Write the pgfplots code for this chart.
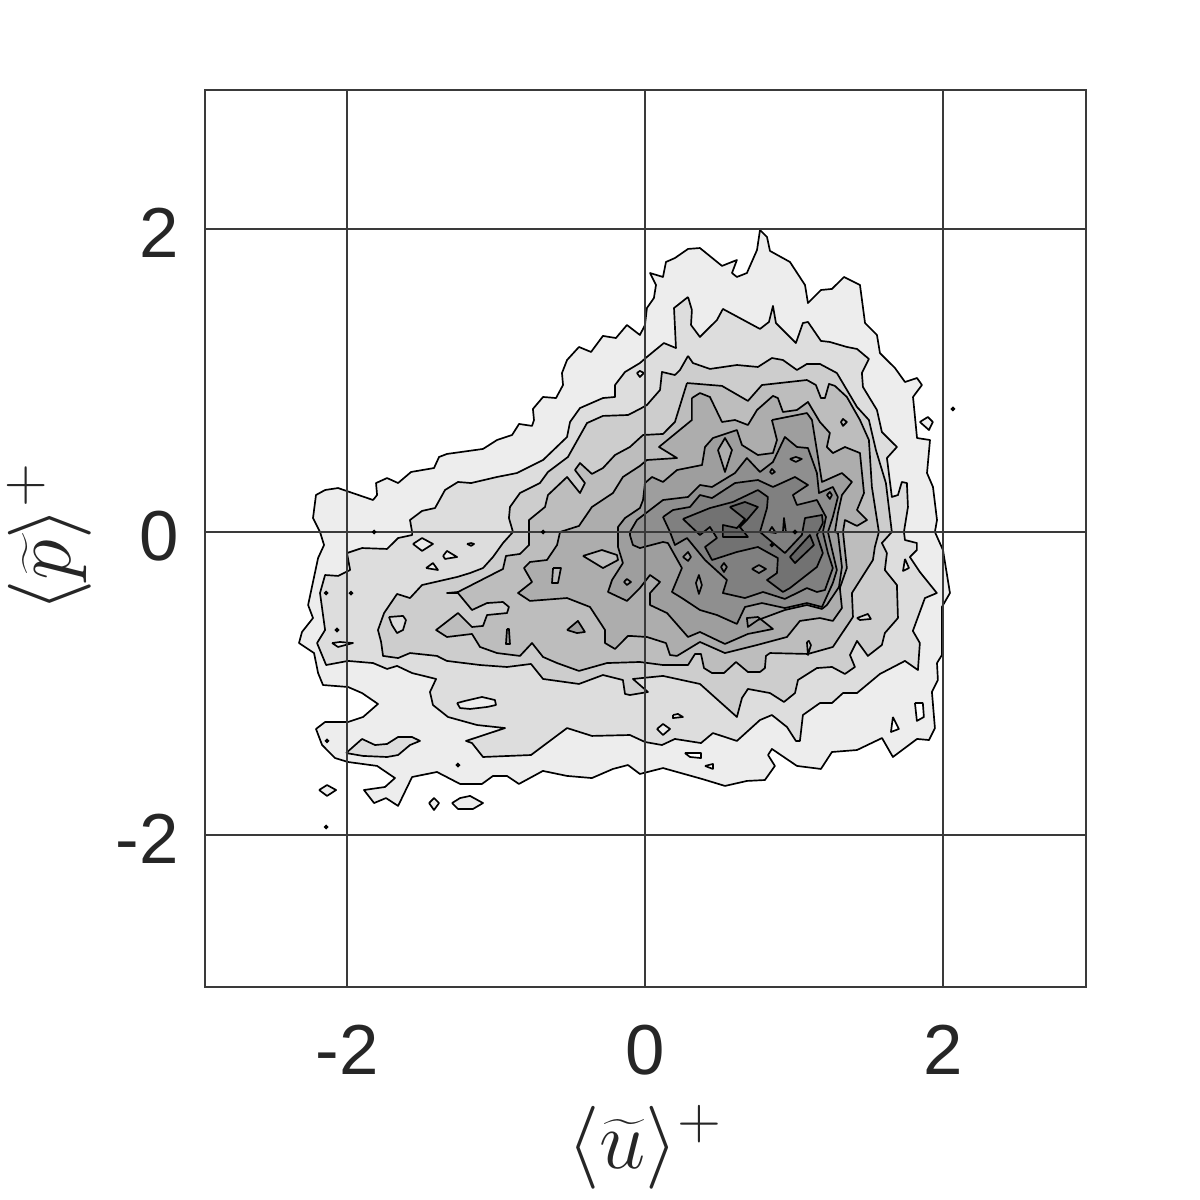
\documentclass[border=0pt]{standalone}
\usepackage{pgfplots}
\pgfplotsset{compat=1.18}
\usepackage{fontspec}
\setmainfont{Liberation Sans}
\definecolor{Lw}{gray}{1}
\definecolor{La}{RGB}{237,237,237}
\definecolor{Lb}{RGB}{221,221,221}
\definecolor{Lc}{RGB}{205,205,205}
\definecolor{Ld}{RGB}{189,189,189}
\definecolor{Le}{RGB}{173,173,173}
\definecolor{Lf}{RGB}{158,158,158}
\definecolor{Lg}{RGB}{143,143,143}
\definecolor{Lh}{RGB}{128,128,128}
\definecolor{Li}{RGB}{114,114,114}
\definecolor{Lj}{RGB}{100,100,100}
\definecolor{Ax}{RGB}{58,58,58}
\definecolor{Tx}{RGB}{38,38,38}
\newcommand{\Q}[2]{\addplot[fill=#1,draw=black,line width=.42pt,line join=round] coordinates {#2};}
\begin{document}
\begin{tikzpicture}
\path[use as bounding box] (-51.25pt,-53.25pt) rectangle (248.75pt,246.75pt);
\begin{axis}[
 scale only axis, width=220.25pt, height=224.25pt,
 xmin=-2.953, xmax=2.96, ymin=-3.003, ymax=2.917,
 axis on top, grid=major,
 grid style={color=Ax,line width=.48pt},
 axis line style={color=Ax,line width=.48pt},
 major tick length=0pt,
 xtick={-2,0,2}, xticklabels={-2,0,2},
 ytick={-2,0,2}, yticklabels={-2,0,2},
 tick label style={font=\fontsize{17.7}{20}\selectfont,text=Tx},
 xticklabel style={yshift=-6pt},
 yticklabel style={xshift=-3pt,yshift=-1pt},
 xlabel={$\langle\widetilde{u}\rangle^{+}$},
 ylabel={$\langle\widetilde{p}\rangle^{+}$},
 xlabel style={at={(axis description cs:0.5,-0.1305)},anchor=north,inner sep=0pt,font=\fontsize{21.8}{24}\selectfont,text=Tx},
 ylabel style={at={(axis description cs:-0.128,0.5017)},anchor=south,inner sep=0pt,font=\fontsize{21.8}{24}\selectfont,text=Tx},
]
% level 1
\Q{La}{(.772,1.993)(.819,1.947)(.839,1.855)(.973,1.782)(1.074,1.630)(1.094,1.511)(1.181,1.597)(1.255,1.604)(1.336,1.683)(1.443,1.630)(1.477,1.379)(1.557,1.300)(1.577,1.181)(1.678,1.082)(1.745,.990)(1.826,1.016)(1.859,.970)(1.799,.891)(1.826,.620)(1.913,.607)(1.893,.389)(1.933,.297)(1.960,.079)(1.946,0)(2.000,-.119)(2.047,-.403)(1.993,-.495)(1.993,-.812)(1.960,-.865)(1.966,-.977)(1.926,-1.056)(1.946,-1.294)(1.906,-1.373)(1.826,-1.366)(1.664,-1.485)(1.591,-1.360)(1.423,-1.439)(1.255,-1.452)(1.181,-1.564)(1.020,-1.544)(.852,-1.432)(.826,-1.472)(.872,-1.544)(.805,-1.637)(.685,-1.643)(.537,-1.676)(.383,-1.630)(.121,-1.558)(-.034,-1.597)(-.114,-1.538)(-.215,-1.564)(-.356,-1.624)(-.523,-1.610)(-.685,-1.577)(-.846,-1.663)(-.926,-1.610)(-1.020,-1.610)(-1.094,-1.663)(-1.241,-1.663)(-1.396,-1.584)(-1.563,-1.617)(-1.657,-1.808)(-1.738,-1.756)(-1.818,-1.789)(-1.886,-1.703)(-1.745,-1.683)(-1.678,-1.624)(-1.798,-1.544)(-1.993,-1.518)(-2.080,-1.492)(-2.167,-1.406)(-2.208,-1.300)(-2.147,-1.254)(-1.993,-1.254)(-1.892,-1.221)(-1.792,-1.135)(-1.899,-1.063)(-1.993,-1.023)(-2.161,-1.010)(-2.194,-.931)(-2.221,-.799)(-2.322,-.733)(-2.302,-.660)(-2.228,-.568)(-2.261,-.482)(-2.194,-.172)(-2.154,-.086)(-2.181,0)(-2.228,.092)(-2.208,.244)(-2.147,.277)(-2.060,.290)(-1.825,.211)(-1.798,.244)(-1.805,.323)(-1.731,.356)(-1.657,.323)(-1.570,.396)(-1.416,.422)(-1.382,.495)(-1.329,.515)(-1.087,.548)(-.993,.607)(-.892,.640)(-.845,.713)(-.758,.700)(-.745,.739)(-.752,.812)(-.684,.891)(-.597,.884)(-.550,.970)(-.557,1.049)(-.523,1.135)(-.443,1.221)(-.362,1.188)(-.282,1.294)(-.195,1.280)(-.121,1.366)(-.034,1.300)(0,1.366)(.013,1.478)(.060,1.544)(.074,1.630)(.034,1.709)(.121,1.683)(.141,1.782)(.201,1.808)(.289,1.868)(.369,1.874)(.517,1.756)(.617,1.795)(.584,1.709)(.617,1.683)(.684,1.709)(.752,1.861)(.772,1.993)}
% islands of level 1 outside
\Q{La}{(-2.187,-1.703)(-2.134,-1.670)(-2.073,-1.703)(-2.134,-1.742)(-2.187,-1.703)}
\Q{La}{(-1.449,-1.789)(-1.416,-1.756)(-1.382,-1.789)(-1.416,-1.835)(-1.449,-1.789)}
\Q{La}{(-1.295,-1.789)(-1.241,-1.756)(-1.174,-1.742)(-1.087,-1.789)(-1.154,-1.828)(-1.255,-1.828)(-1.295,-1.789)}
\Q{La}{(1.845,.726)(1.899,.759)(1.932,.726)(1.906,.673)(1.845,.726)}
% white holes in level 1
\Q{Lw}{(1.812,-1.129)(1.865,-1.129)(1.872,-1.221)(1.825,-1.247)(1.812,-1.129)}
\Q{Lw}{(1.664,-1.221)(1.704,-1.300)(1.651,-1.320)(1.664,-1.221)}
\Q{Lw}{(.268,-1.459)(.376,-1.459)(.376,-1.492)(.302,-1.485)(.268,-1.459)}
\Q{Lw}{(.403,-1.544)(.456,-1.531)(.456,-1.564)(.403,-1.544)}
% level 2
\Q{Lb}{(.289,1.551)(.315,1.465)(.309,1.366)(.369,1.287)(.483,1.399)(.523,1.472)(.772,1.340)(.832,1.386)(.859,1.492)(.879,1.379)(1.013,1.247)(1.060,1.379)(1.094,1.386)(1.181,1.261)(1.241,1.254)(1.355,1.221)(1.423,1.208)(1.503,1.142)(1.456,1.049)(1.463,.957)(1.557,.805)(1.590,.660)(1.691,.561)(1.624,.488)(1.657,.231)(1.698,.244)(1.724,.330)(1.758,.323)(1.765,.165)(1.738,0)(1.745,-.053)(1.825,-.073)(1.825,-.119)(1.778,-.165)(1.845,-.264)(1.959,-.403)(1.879,-.436)(1.798,-.653)(1.845,-.733)(1.832,-.911)(1.745,-.851)(1.577,-.937)(1.423,-1.063)(1.329,-1.063)(1.255,-1.129)(1.174,-1.129)(1.060,-1.208)(1.040,-1.379)(1.013,-1.379)(.953,-1.287)(.852,-1.208)(.772,-1.241)(.617,-1.379)(.456,-1.327)(.376,-1.393)(.201,-1.366)(.114,-1.406)(0,-1.386)(-.101,-1.340)(-.356,-1.346)(-.523,-1.294)(-.765,-1.472)(-1.087,-1.485)(-1.161,-1.393)(-1.201,-1.379)(-.939,-1.294)(-1.127,-1.274)(-1.322,-1.221)(-1.423,-1.142)(-1.443,-1.056)(-1.402,-.970)(-1.563,-.931)(-1.664,-.884)(-1.731,-.904)(-1.825,-.865)(-1.993,-.851)(-2.140,-.878)(-2.201,-.733)(-2.147,-.647)(-2.181,-.403)(-2.147,-.284)(-2.060,-.290)(-1.979,-.251)(-2.000,-.139)(-1.899,-.106)(-1.731,-.112)(-1.657,-.040)(-1.563,-.020)(-1.563,0)(-1.577,.079)(-1.496,.139)(-1.409,.158)(-1.342,.277)(-1.255,.330)(-1.167,.323)(-.993,.363)(-.859,.389)(-.684,.475)(-.523,.627)(-.503,.726)(-.436,.818)(-.282,.884)(-.201,.891)(-.201,.970)(-.134,1.056)(-.034,1.115)(.013,1.155)(.127,1.247)(.208,1.214)(.195,1.478)(.289,1.551)}
\Q{Lb}{(-2.006,-1.459)(-1.899,-1.366)(-1.812,-1.406)(-1.731,-1.399)(-1.657,-1.353)(-1.563,-1.353)(-1.510,-1.379)(-1.577,-1.406)(-1.657,-1.472)(-1.731,-1.485)(-1.892,-1.478)(-2.006,-1.459)}
% level 1 holes in level 2
\Q{La}{(-.054,1.049)(-.034,1.063)(-.007,1.049)(-.034,1.023)(-.054,1.049)}
\Q{La}{(-1.557,-.079)(-1.496,-.040)(-1.423,-.079)(-1.496,-.125)(-1.557,-.079)}
\Q{La}{(-1.355,-.158)(-1.329,-.125)(-1.261,-.165)(-1.342,-.178)(-1.355,-.158)}
\Q{La}{(-1.469,-.238)(-1.423,-.205)(-1.389,-.251)(-1.469,-.238)}
\Q{La}{(-1.261,-1.129)(-1.208,-1.115)(-1.094,-1.089)(-1.007,-1.109)(-1.000,-1.142)(-1.060,-1.155)(-1.174,-1.168)(-1.241,-1.162)(-1.261,-1.129)}
\Q{La}{(-1.194,-.079)(-1.167,-.073)(-1.147,-.079)(-1.167,-.092)(-1.194,-.079)}
\Q{La}{(-2.100,-.733)(-2.047,-.726)(-1.960,-.733)(-2.060,-.759)(-2.100,-.733)}
\Q{La}{(1.745,-.178)(1.772,-.238)(1.732,-.257)(1.745,-.178)}
\Q{La}{(.081,-1.300)(.121,-1.267)(.168,-1.300)(.121,-1.340)(.081,-1.300)}
\Q{La}{(.188,-1.208)(.221,-1.201)(.255,-1.221)(.188,-1.228)(.188,-1.208)}
% level 3
\Q{Lc}{(.289,1.162)(.322,1.115)(.436,1.076)(.617,1.102)(.758,1.089)(.852,1.148)(.926,1.135)(1.020,1.069)(1.087,1.109)(1.174,1.109)(1.288,1.049)(1.423,.825)(1.503,.739)(1.550,.541)(1.617,.323)(1.657,0)(1.590,-.073)(1.624,-.139)(1.610,-.251)(1.691,-.350)(1.698,-.568)(1.610,-.667)(1.590,-.746)(1.496,-.818)(1.423,-.719)(1.376,-.812)(1.409,-.891)(1.342,-.937)(1.255,-.891)(1.154,-.898)(1.027,-.977)(1.007,-1.063)(.933,-1.122)(.839,-1.063)(.691,-1.036)(.651,-1.096)(.617,-1.221)(.369,-1.003)(.121,-.950)(-.081,-.970)(.020,-1.056)(-.101,-1.076)(-.134,-1.069)(-.148,-.977)(-.282,-.944)(-.443,-1.003)(-.684,-.970)(-.765,-.871)(-.926,-.891)(-1.107,-.878)(-1.329,-.851)(-1.396,-.818)(-1.577,-.799)(-1.657,-.832)(-1.758,-.818)(-1.771,-.726)(-1.792,-.647)(-1.751,-.535)(-1.664,-.409)(-1.577,-.436)(-1.496,-.350)(-1.261,-.297)(-1.174,-.271)(-1.087,-.238)(-1.020,-.165)(-.953,-.073)(-.886,0)(-.913,.092)(-.906,.165)(-.839,.257)(-.705,.323)(-.651,.396)(-.517,.495)(-.389,.719)(-.282,.766)(-.114,.772)(-.034,.812)(.013,.838)(.101,.937)(.114,1.056)(.201,1.036)(.235,1.069)(.289,1.162)}
\Q{Lb}{(-1.718,-.561)(-1.624,-.554)(-1.604,-.581)(-1.624,-.647)(-1.664,-.667)(-1.698,-.614)(-1.718,-.561)}
\Q{Lb}{(1.423,-.568)(1.496,-.541)(1.516,-.574)(1.443,-.581)(1.423,-.568)}
% level 4
\Q{Ld}{(.282,.983)(.517,.964)(.691,.865)(.785,.970)(1.087,1.003)(1.147,.970)(1.181,.884)(1.208,.884)(1.235,.977)(1.275,.964)(1.355,.891)(1.443,.739)(1.503,.607)(1.523,.297)(1.570,0)(1.543,-.099)(1.530,-.185)(1.389,-.403)(1.396,-.561)(1.261,-.759)(1.094,-.805)(.839,-.799)(.812,-.818)(.805,-.898)(.772,-.924)(.691,-.924)(.611,-.858)(.530,-.931)(.450,-.931)(.396,-.898)(.376,-.805)(.336,-.805)(.289,-.878)(.121,-.878)(-.034,-.858)(-.255,-.865)(-.443,-.917)(-.590,-.865)(-.684,-.825)(-.758,-.733)(-.839,-.818)(-.993,-.799)(-1.107,-.759)(-1.161,-.673)(-1.329,-.693)(-1.402,-.647)(-1.255,-.535)(-1.161,-.627)(-1.087,-.620)(-1.060,-.548)(-.926,-.535)(-.913,-.495)(-.953,-.462)(-1.060,-.469)(-1.161,-.515)(-1.255,-.403)(-1.329,-.403)(-1.255,-.396)(-.953,-.244)(-.933,-.158)(-.839,-.145)(-.778,-.086)(-.778,0)(-.778,.079)(-.671,.165)(-.651,.244)(-.523,.363)(-.436,.257)(-.403,.323)(-.470,.409)(-.436,.455)(-.356,.383)(-.282,.422)(-.201,.508)(-.101,.561)(-.013,.640)(.121,.647)(.201,.726)(.282,.983)}
\Q{Lc}{(1.087,-.726)(1.100,-.719)(1.114,-.746)(1.094,-.812)(1.087,-.726)}
% level 5
\Q{Le}{(.315,.884)(.369,.917)(.436,.891)(.517,.726)(.604,.739)(.691,.706)(.752,.805)(.859,.898)(.892,.884)(.926,.792)(1.020,.805)(1.094,.858)(1.174,.726)(1.241,.653)(1.221,.561)(1.261,.521)(1.342,.561)(1.443,.521)(1.470,.257)(1.423,.145)(1.490,.079)(1.423,.040)(1.342,.079)(1.329,0)(1.355,-.238)(1.308,-.370)(1.322,-.502)(1.261,-.587)(1.174,-.568)(1.040,-.587)(.953,-.693)(.752,-.746)(.537,-.799)(.369,-.726)(.215,-.818)(.168,-.812)(.141,-.733)(.013,-.693)(-.101,-.686)(-.114,-.686)(-.201,-.772)(-.268,-.733)(-.268,-.647)(-.369,-.495)(-.523,-.436)(-.772,-.455)(-.852,-.403)(-.758,-.330)(-.812,-.238)(-.772,-.198)(-.658,-.185)(-.590,-.086)(-.570,0)(-.443,.040)(-.356,.165)(-.215,.257)(-.148,.363)(-.034,.436)(.013,.475)(.215,.488)(.094,.561)(.315,.739)(.315,.884)}
\Q{Lf}{(-.523,-.647)(-.450,-.587)(-.403,-.660)(-.456,-.667)(-.523,-.647)}
\Q{Lf}{(-.926,-.640)(-.913,-.640)(-.906,-.739)(-.933,-.739)(-.926,-.640)}
\Q{Ld}{(.993,.726)(1.020,.739)(1.040,.726)(1.020,.706)(.993,.726)}
\Q{Ld}{(1.315,.726)(1.329,.746)(1.355,.726)(1.329,.700)(1.315,.726)}
\Q{Ld}{(-.416,-.158)(-.289,-.119)(-.188,-.152)(-.181,-.185)(-.282,-.238)(-.416,-.158)}
\Q{Ld}{(-.617,-.238)(-.564,-.238)(-.584,-.337)(-.624,-.337)(-.617,-.238)}
% level 6
\Q{Lf}{(.852,.739)(1.087,.785)(1.121,.739)(1.188,.330)(1.322,.389)(1.389,.330)(1.322,.244)(1.295,.125)(1.275,0)(1.295,-.007)(1.322,-.231)(1.302,-.363)(1.221,-.482)(1.188,-.508)(1.087,-.482)(.939,-.515)(.758,-.581)(.691,-.627)(.684,-.568)(.758,-.561)(.859,-.640)(.691,-.673)(.537,-.739)(.369,-.660)(.289,-.693)(.148,-.535)(.034,-.482)(.034,-.403)(.101,-.330)(.034,-.284)(-.034,-.370)(-.101,-.436)(-.121,-.455)(-.248,-.396)(-.221,-.317)(-.148,-.205)(-.181,-.099)(-.181,0)(-.181,.033)(-.134,.092)(-.034,.158)(-.013,.211)(0,.323)(.047,.363)(.121,.330)(.215,.409)(.383,.442)(.403,.561)(.456,.620)(.617,.673)(.651,.574)(.758,.508)(.859,.521)(.886,.607)(.852,.739)}
\Q{Le}{(.490,.541)(.537,.620)(.584,.541)(.537,.396)(.490,.541)}
\Q{Le}{(-.141,-.330)(-.121,-.310)(-.094,-.330)(-.121,-.350)(-.141,-.330)}
% level 7
\Q{Lg}{(-.101,0)(-.054,.079)(.121,.211)(.289,.231)(.369,.310)(.450,.297)(.604,.389)(.684,.488)(.772,.396)(.859,.462)(.939,.627)(1.020,.561)(1.094,.554)(1.154,.389)(1.168,.257)(1.261,.297)(1.295,.231)(1.261,.099)(1.228,0)(1.261,-.139)(1.288,-.251)(1.261,-.337)(1.188,-.495)(1.087,-.469)(.939,-.502)(.785,-.469)(.671,-.495)(.617,-.607)(.483,-.548)(.369,-.515)(.248,-.436)(.181,-.396)(.248,-.238)(.154,-.073)(.121,-.066)(-.034,-.106)(-.081,-.086)(-.101,-.020)(-.101,0)}
\Q{Lf}{(.973,.482)(1.013,.495)(1.053,.482)(1.013,.462)(.973,.482)}
\Q{Lf}{(.839,.396)(.852,.416)(.872,.396)(.852,.383)(.839,.396)}
\Q{Lf}{(1.221,.244)(1.241,.264)(1.255,.244)(1.241,.218)(1.221,.244)}
\Q{Lf}{(.255,-.165)(.289,-.132)(.309,-.165)(.289,-.191)(.255,-.165)}
\Q{Lf}{(.342,-.337)(.362,-.284)(.382,-.350)(.362,-.409)(.342,-.337)}
% level 8
\Q{Lh}{(.121,.099)(.188,.145)(.302,.165)(.369,.244)(.450,.224)(.604,.323)(.758,.343)(.859,.297)(1.007,.363)(1.094,.310)(.993,.244)(1.020,.178)(1.154,.211)(1.215,.099)(1.194,0)(1.228,-.139)(1.261,-.238)(1.208,-.383)(1.154,-.396)(1.087,-.370)(.939,-.442)(.792,-.396)(.671,-.436)(.523,-.403)(.550,-.317)(.403,-.185)(.282,-.040)(.201,-.086)(.168,0)(.121,.099)}
\Q{Lg}{(.510,-.231)(.530,-.205)(.550,-.231)(.530,-.264)(.510,-.231)}
\Q{Lg}{(.718,-.244)(.765,-.218)(.812,-.244)(.765,-.271)(.718,-.244)}
\Q{Lg}{(.832,0)(.852,.033)(.879,-.007)(.832,0)}
\Q{Lg}{(.926,0)(.933,.092)(.946,0)(.926,0)}
% level 9
\Q{Li}{(.255,.086)(.436,.158)(.590,.198)(.758,.277)(.825,.231)(.819,.158)(.772,0)(.939,-.139)(1.053,-.020)(1.074,.092)(1.188,.112)(1.194,.059)(1.154,-.020)(1.194,-.139)(1.154,-.231)(.973,-.370)(.926,-.396)(.819,-.317)(.886,-.271)(.892,-.172)(.758,-.099)(.617,-.132)(.450,-.185)(.403,-.099)(.483,-.040)(.436,.033)(.369,-.020)(.255,.086)}
% level 10
\Q{Lj}{(.570,.165)(.671,.198)(.758,.165)(.684,.079)(.637,.033)(.691,-.033)(.523,-.033)(.523,.046)(.617,.026)(.671,.086)(.570,.165)}
\Q{Lj}{(.973,-.165)(1.107,-.020)(1.134,-.086)(1.007,-.205)(.973,-.165)}
% markers of very small closed contours
\addplot[only marks,mark=*,mark size=.35pt,black] coordinates {(-2.140,-.403)(-1.973,-.403)(-1.818,0)(-.684,0)(-2.134,-1.379)(-1.255,-1.538)(-2.140,-1.947)(-2.067,-.647)(.852,-.086)(1.007,0)(2.067,.812)};
\end{axis}
\end{tikzpicture}
\end{document}
